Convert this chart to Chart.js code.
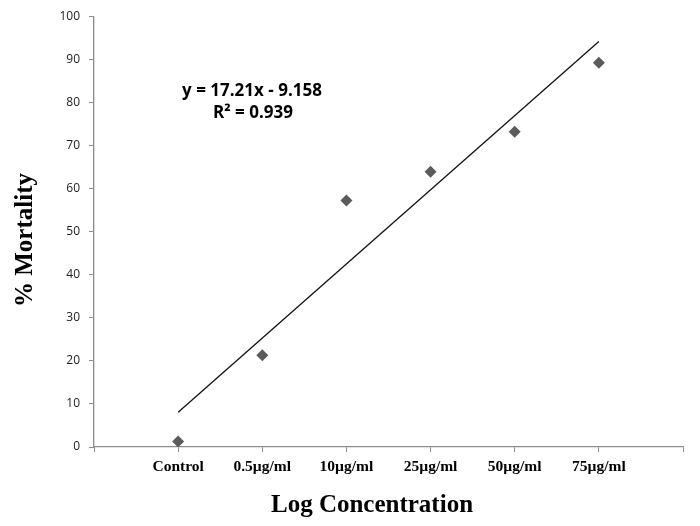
<!DOCTYPE html>
<html>
<head>
<meta charset="utf-8">
<script src="https://cdn.jsdelivr.net/npm/chart.js@4/dist/chart.umd.min.js"></script>
<style>
  html, body { margin: 0; padding: 0; background: #fff; }
  #wrap { width: 700px; height: 526px; }
</style>
</head>
<body>
<div id="wrap"><canvas id="mortalityChart" width="700" height="526"></canvas></div>
<script>
// data
const categories = ['Control', '0.5µg/ml', '10µg/ml', '25µg/ml', '50µg/ml', '75µg/ml'];
const mortality = [1.3, 21.3, 57.2, 63.9, 73.2, 89.2];
const yTicks = [0, 10, 20, 30, 40, 50, 60, 70, 80, 90, 100];

// trendline as printed on the chart
const slope = 17.21;
const intercept = -9.158;
const equationText = 'y = 17.21x - 9.158';
const r2Text = 'R² = 0.939';

const points = categories.map((c, i) => ({ x: i + 1, y: mortality[i] }));
const trend = [1, categories.length].map(x => ({ x: x, y: slope * x + intercept }));

const axisGray = '#8c8c8c';

const annotations = {
    id: 'annotations',
    afterDraw(chart) {
        const c = chart.ctx;
        c.save();
        c.fillStyle = '#000';
        c.textAlign = 'center';
        c.textBaseline = 'middle';
        c.font = 'bold 17px "Open Sans", sans-serif';
        c.fillText(equationText, 252, 91);
        c.fillText(r2Text, 253, 113);
        // x axis title
        c.font = 'bold 25px "Liberation Serif", serif';
        c.fillText('Log Concentration', 372, 506);
        // y axis title
        c.translate(26, 240);
        c.rotate(-Math.PI / 2);
        c.fillText('% Mortality', 0, 0);
        c.restore();
    }
};

const ctx = document.getElementById('mortalityChart').getContext('2d');
const mortalityChart = new Chart(ctx, {
    type: 'scatter',
    data: {
        datasets: [{
            label: 'Mortality',
            data: points,
            pointStyle: 'rectRot',
            pointRadius: 6,
            backgroundColor: '#5b5b5b',
            borderColor: '#5b5b5b',
            borderWidth: 0
        }, {
            label: 'Linear',
            type: 'line',
            data: trend,
            borderColor: '#111',
            borderWidth: 1.3,
            pointRadius: 0,
            fill: false
        }]
    },
    options: {
        responsive: false,
        animation: false,
        layout: { padding: { top: 16, right: 17, left: 0, bottom: 0 } },
        plugins: { legend: { display: false }, tooltip: { enabled: false } },
        scales: {
            x: {
                type: 'linear',
                min: 0,
                max: 7,
                afterFit: s => { s.height = 79; },
                afterBuildTicks: s => { s.ticks = [0, 1, 2, 3, 4, 5, 6, 7].map(v => ({ value: v })); },
                grid: { drawOnChartArea: false, drawTicks: true, tickLength: 5, color: axisGray },
                border: { color: axisGray, width: 1.3 },
                ticks: {
                    autoSkip: false,
                    maxRotation: 0,
                    padding: 6,
                    color: '#000',
                    font: { family: '"Liberation Serif", serif', size: 15.5, weight: 'bold' },
                    callback: v => categories[v - 1] || ''
                }
            },
            y: {
                min: 0,
                max: 100,
                afterFit: s => { s.width = 94; },
                afterBuildTicks: s => { s.ticks = yTicks.map(v => ({ value: v })); },
                grid: { drawOnChartArea: false, drawTicks: true, tickLength: 5, color: axisGray },
                border: { color: axisGray, width: 1.3 },
                ticks: {
                    padding: 9,
                    color: '#222',
                    font: { family: '"Open Sans", sans-serif', size: 12 }
                }
            }
        }
    },
    plugins: [annotations]
});
</script>
</body>
</html>
